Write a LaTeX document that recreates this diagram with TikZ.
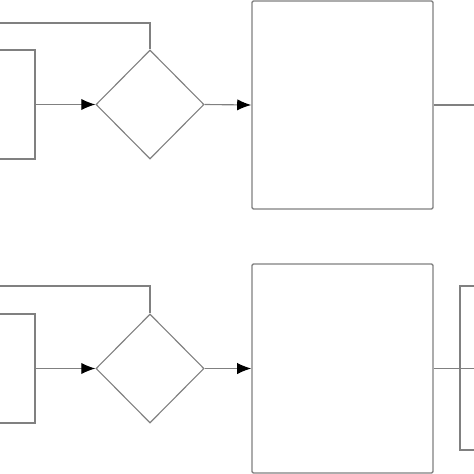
\documentclass[tikz,border=0pt]{standalone}
\usetikzlibrary{shapes.geometric,arrows.meta}

\begin{document}
\begin{tikzpicture}[x=0.025cm,y=-0.025cm,
        line/.style={draw=black!50,line width=0.8pt},
        arr/.style={line,-{Latex[length=10pt,width=8pt,black]}},
        inbox/.style={line,rectangle,inner sep=0pt,minimum width=1.25cm,minimum height=2.725cm},
        dec/.style={line,diamond,inner sep=0pt,minimum width=2.7cm,minimum height=2.725cm},
        blk/.style={line,line width=1pt,rectangle,rounded corners=1pt,inner sep=0pt,minimum width=4.525cm}]
        \useasboundingbox (0,0) rectangle (474,474);
        % Upper chain
        \node[inbox] (in1) at (10,104.5) {};
        \node[dec] (dec1) at (150,104.5) {};
        \node[blk,minimum height=5.2cm] (blk1) at (342.5,105) {};
        \coordinate (fb1) at (-10,23);
        \coordinate (out1) at (490,105);
        \draw[line] (fb1) -| (dec1.north);
        \draw[arr] (in1.east) -- (dec1.west);
        \draw[arr] (dec1.east) -- (blk1.west);
        \draw[line] (blk1.east) -- (out1);
        % Lower chain
        \node[inbox] (in2) at (10,368.5) {};
        \node[dec] (dec2) at (150,368.5) {};
        \node[blk,minimum height=5.225cm] (blk2) at (342.5,368.5) {};
        \node[line,rectangle,inner sep=0pt,minimum width=1cm,minimum height=4.1cm] (nxt2) at (480,368) {};
        \coordinate (fb2) at (-10,286);
        \coordinate (out2) at (490,368.5);
        \draw[line] (fb2) -| (dec2.north);
        \draw[arr] (in2.east) -- (dec2.west);
        \draw[arr] (dec2.east) -- (blk2.west);
        \draw[line] (blk2.east) -- (out2);
\end{tikzpicture}
\end{document}
